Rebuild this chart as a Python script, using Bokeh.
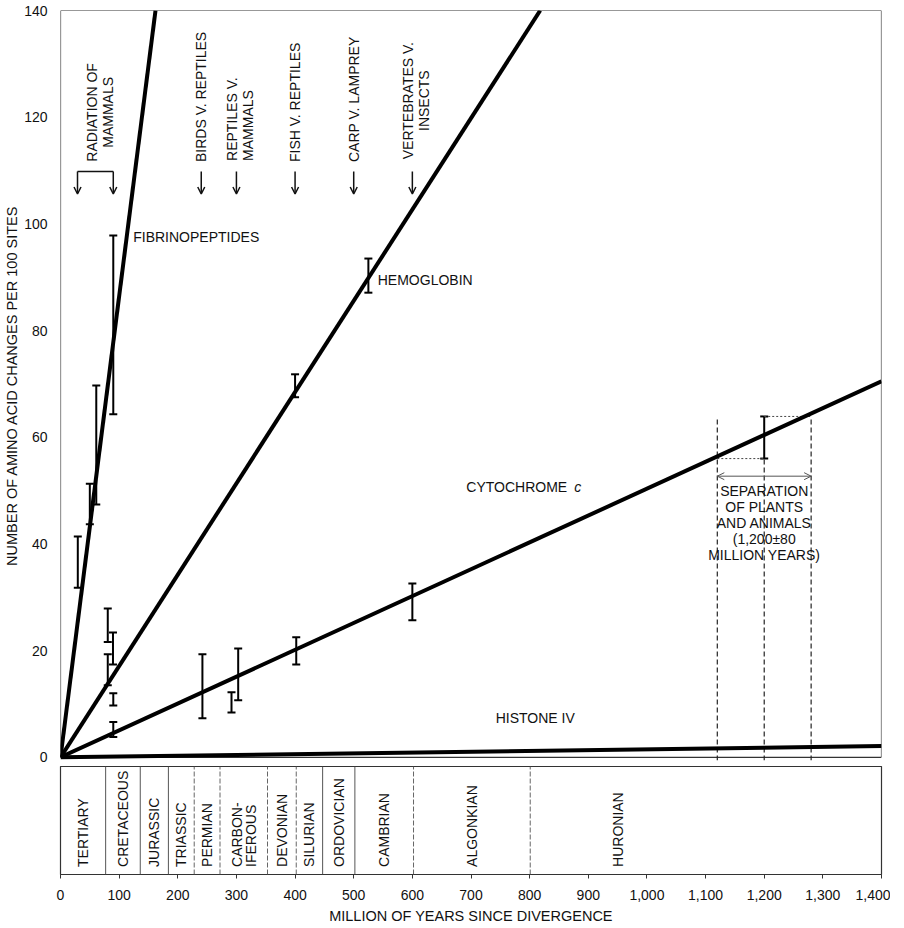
from math import pi
from bokeh.plotting import figure
from bokeh.layouts import column
from bokeh.models import (Range1d, FixedTicker, Whisker, TeeHead, ColumnDataSource,
                          Arrow, OpenHead, NumeralTickFormatter)
from bokeh.core.properties import value
from bokeh.embed import file_html
from bokeh.resources import INLINE

FONT = "Liberation Sans"
FS = "14px"
INK = "#111111"

# ---------------- data ----------------
# fitted lines: from the origin to an end point (million years, changes per 100 sites)
line_names = ["FIBRINOPEPTIDES", "HEMOGLOBIN", "CYTOCHROME c", "HISTONE IV"]
line_end_x = [162, 818, 1400, 1400]
line_end_y = [140, 140, 70.5, 2.1]

# error bars
fib_x = [29.5, 50, 61, 90]
fib_lo = [31.8, 43.7, 47.4, 64.3]
fib_hi = [41.4, 51.3, 69.7, 97.8]

hem_x = [80.6, 80.6, 89.5, 90, 400, 525]
hem_lo = [13.5, 21.6, 17.4, 9.7, 67.5, 87.1]
hem_hi = [19.3, 27.9, 23.4, 12.0, 71.8, 93.5]

cyt_x = [90, 242, 291.6, 303, 402, 600, 1200]
cyt_lo = [3.8, 7.3, 8.4, 10.7, 17.4, 25.7, 56.0]
cyt_hi = [6.6, 19.3, 12.2, 20.4, 22.5, 32.6, 63.9]

# divergence events
event_x = [240, 300, 400, 500, 600]
event_text = [["BIRDS V. REPTILES"], ["REPTILES V.", "MAMMALS"], ["FISH V. REPTILES"],
              ["CARP V. LAMPREY"], ["VERTEBRATES V.", "INSECTS"]]
radiation_x = [29, 90]

# plants / animals separation
sep_center = 1200
sep_err = 80

# geological periods (million years)
period_bounds = [0, 77, 136, 184, 228, 272, 353, 402, 447, 502, 602, 801, 1100, 1400]
period_names = [["TERTIARY"], ["CRETACEOUS"], ["JURASSIC"], ["TRIASSIC"], ["PERMIAN"],
                ["CARBON-", "IFEROUS"], ["DEVONIAN"], ["SILURIAN"], ["ORDOVICIAN"],
                ["CAMBRIAN"], ["ALGONKIAN"], ["HURONIAN"]]
bound_dashed = [False, False, False, False, True, True, True, True, False, False, True, True, None, False]

x_ticks = list(range(0, 1401, 100))
y_ticks = list(range(0, 141, 20))

W = 890
xr = Range1d(0, 1400)

# ---------------- upper panel ----------------
p = figure(width=W, height=766, output_backend="svg", toolbar_location=None,
           x_range=xr, y_range=Range1d(-0.6, 140), x_axis_location=None,
           min_border_left=60, min_border_right=9, min_border_top=10, min_border_bottom=6)
p.outline_line_color = None
p.grid.visible = False

p.yaxis.ticker = FixedTicker(ticks=y_ticks)
p.yaxis.axis_line_color = None
p.yaxis.major_tick_line_color = None
p.yaxis.minor_tick_line_color = None
p.yaxis.major_label_standoff = 7
p.yaxis.major_label_text_font = FONT
p.yaxis.major_label_text_font_size = FS
p.yaxis.major_label_text_color = INK
p.yaxis.axis_label = "NUMBER OF AMINO ACID CHANGES PER 100 SITES"
p.yaxis.axis_label_text_font = FONT
p.yaxis.axis_label_text_font_size = "14.5px"
p.yaxis.axis_label_text_font_style = "normal"
p.yaxis.axis_label_text_color = INK
p.yaxis.axis_label_standoff = 1

# frame of upper panel
p.segment(x0=[0, 0, 1400, 0], y0=[0, 140, 0, 0], x1=[0, 1400, 1400, 1400], y1=[140, 140, 140, 0],
          line_color="#333333", line_width=1.2)

# separation of plants and animals
lo, hi = sep_center - sep_err, sep_center + sep_err
cyt_top = cyt_hi[-1]
cyt_bot = cyt_lo[-1]
p.segment(x0=[lo, hi], x1=[lo, hi], y0=[-0.6, -0.6], y1=[cyt_top, cyt_top],
          line_color="#222222", line_width=1.2, line_dash="5 3")
p.segment(x0=[sep_center], x1=[sep_center], y0=[-0.6], y1=[cyt_bot],
          line_color="#222222", line_width=1.2, line_dash="5 3")
p.segment(x0=[sep_center, lo], x1=[hi, sep_center], y0=[cyt_top, cyt_bot], y1=[cyt_top, cyt_bot],
          line_color="#444444", line_width=1, line_dash="2 2")
p.add_layout(Arrow(x_start=lo, y_start=52.7, x_end=hi, y_end=52.7, line_color="#555555", line_width=1,
                   start=OpenHead(size=7, line_width=1, line_color="#555555"),
                   end=OpenHead(size=7, line_width=1, line_color="#555555")))
sep_lines = ["SEPARATION", "OF PLANTS", "AND ANIMALS", "(1,200\u00b180", "MILLION YEARS)"]
p.text(x=[sep_center] * 5, y=[50.0, 47.0, 44.0, 41.0, 38.0], text=sep_lines, text_align="center",
       text_baseline="middle", text_font=value(FONT), text_font_size=FS, text_color=INK)

# fitted lines
for ex, ey in zip(line_end_x, line_end_y):
    p.line(x=[0, ex], y=[0, ey], line_color="black", line_width=4)

# error bars
for xs, los, his in [(fib_x, fib_lo, fib_hi), (hem_x, hem_lo, hem_hi), (cyt_x, cyt_lo, cyt_hi)]:
    src = ColumnDataSource(dict(base=xs, lower=los, upper=his))
    p.add_layout(Whisker(source=src, base="base", lower="lower", upper="upper", dimension="height",
                         line_color="black", line_width=2,
                         upper_head=TeeHead(size=8, line_width=2, line_color="black"),
                         lower_head=TeeHead(size=8, line_width=2, line_color="black")))

# line labels
def label(x, y, t, style="normal"):
    p.text(x=[x], y=[y], text=[t], text_align="left", text_baseline="middle",
           text_font=value(FONT), text_font_size=FS, text_color=INK, text_font_style=style)

label(124, 97.5, "FIBRINOPEPTIDES")
label(541, 89.4, "HEMOGLOBIN")
label(692, 50.6, "CYTOCHROME")
label(876, 50.6, "c", "italic")
label(742, 7.3, "HISTONE IV")

# event arrows
ARR_TOP, ARR_TIP = 109.8, 105.6
for x in event_x + radiation_x:
    p.add_layout(Arrow(x_start=x, y_start=ARR_TOP, x_end=x, y_end=ARR_TIP, line_color=INK,
                       line_width=1.5, end=OpenHead(size=7, line_width=1.5, line_color=INK)))
p.segment(x0=[radiation_x[0]], x1=[radiation_x[1]], y0=[ARR_TOP], y1=[ARR_TOP],
          line_color=INK, line_width=1.5)

# event texts
for x, lines in zip(event_x, event_text):
    if len(lines) == 1:
        p.text(x=[x], y=[111.6], text=lines, angle=pi / 2, text_align="left", text_baseline="middle",
               text_font=value(FONT), text_font_size=FS, text_color=INK)
    else:
        p.text(x=[x - 8, x + 20], y=[111.8, 111.8] if x < 500 else [123.1, 123.1], text=lines,
               angle=pi / 2, text_align="left" if x < 500 else "center", text_baseline="middle",
               text_font=value(FONT), text_font_size=FS, text_color=INK)
rad_mid = (radiation_x[0] + radiation_x[1]) / 2
p.text(x=[rad_mid - 6, rad_mid + 22], y=[120.9, 120.9], text=["RADIATION OF", "MAMMALS"], angle=pi / 2,
       text_align="center", text_baseline="middle", text_font=value(FONT), text_font_size=FS,
       text_color=INK)

# ---------------- geological band ----------------
g = figure(width=W, height=160, output_backend="svg", toolbar_location=None,
           x_range=xr, y_range=Range1d(0, 1), y_axis_location=None,
           min_border_left=60, min_border_right=9, min_border_top=0, min_border_bottom=48)
g.outline_line_color = "#333333"
g.outline_line_width = 1.2
g.grid.visible = False

g.xaxis.ticker = FixedTicker(ticks=x_ticks)
g.xaxis.formatter = NumeralTickFormatter(format="0,0")
g.xaxis.axis_line_color = None
g.xaxis.major_tick_in = 0
g.xaxis.major_tick_out = 4
g.xaxis.major_tick_line_color = "#333333"
g.xaxis.minor_tick_line_color = None
g.xaxis.major_label_standoff = 11
g.xaxis.major_label_text_font = FONT
g.xaxis.major_label_text_font_size = FS
g.xaxis.major_label_text_color = INK
g.xaxis.axis_label = "MILLION OF YEARS SINCE DIVERGENCE"
g.xaxis.axis_label_text_font = FONT
g.xaxis.axis_label_text_font_size = "14.5px"
g.xaxis.axis_label_text_font_style = "normal"
g.xaxis.axis_label_text_color = INK
g.xaxis.axis_label_standoff = 5

solid_b = [b for b, d in zip(period_bounds, bound_dashed) if d is False and 0 < b < 1400]
dash_b = [b for b, d in zip(period_bounds, bound_dashed) if d is True]
g.segment(x0=solid_b, x1=solid_b, y0=[0] * len(solid_b), y1=[1] * len(solid_b),
          line_color="#555555", line_width=1)
g.segment(x0=dash_b, x1=dash_b, y0=[0] * len(dash_b), y1=[1] * len(dash_b),
          line_color="#666666", line_width=1, line_dash="5 2")
for i, names in enumerate(period_names):
    mid = (period_bounds[i] + period_bounds[i + 1]) / 2
    xs = [mid] if len(names) == 1 else [mid - 12, mid + 12]
    g.text(x=xs, y=[0.07] * len(xs), text=names, angle=pi / 2, text_align="left",
           text_baseline="middle", text_font=value(FONT), text_font_size=FS, text_color=INK)

layout = column(p, g, spacing=0)
open("out.html", "w").write(file_html(layout, INLINE))
